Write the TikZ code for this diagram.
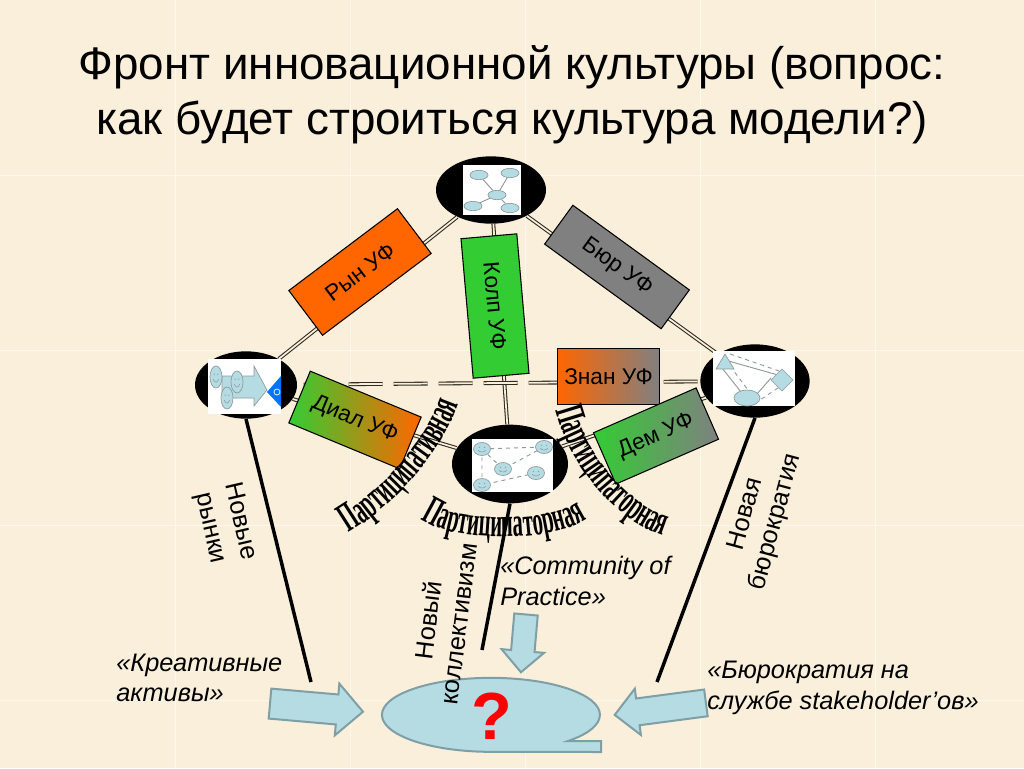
\documentclass[tikz,border=0pt]{standalone}
\usepackage{fontspec}
\setmainfont{Liberation Sans}
\newfontfamily\wordfont[FakeStretch=0.5]{Liberation Serif}
\usetikzlibrary{shapes.geometric,shapes.arrows,decorations.text}
\definecolor{paper}{HTML}{FAEFDA}
\definecolor{seam}{HTML}{FDF8EE}
\definecolor{iceblue}{HTML}{B5DBE3}
\definecolor{iceedge}{HTML}{7F9FA7}
\definecolor{iconedge}{HTML}{8E9A9C}
\definecolor{boxorange}{HTML}{FF6600}
\definecolor{boxgreen}{HTML}{33CC33}
\definecolor{boxgray}{HTML}{808080}
\definecolor{linkdark}{HTML}{2E2A22}
\tikzset{
  hub/.style={ellipse,fill=black,inner sep=0pt},
  uf/.style={draw=black,line width=0.8pt,minimum height=42pt,inner sep=0pt,
    font=\fontsize{17}{19}\selectfont},
  link/.style={draw=linkdark,line width=0.8pt,double=paper,double distance=1.3pt},
  heavy/.style={line width=2.6pt,black},
  note/.style={font=\fontsize{19}{23}\selectfont,align=center,inner sep=0pt},
  quoted/.style={font=\fontsize{19}{23}\selectfont\itshape,align=left,inner sep=0pt,anchor=west},
  blockarrow/.style={single arrow,draw=iceedge,fill=iceblue,line width=1.5pt,inner sep=9pt},
  iconpart/.style={draw=iconedge,fill=iceblue,line width=0.5pt},
  iconlink/.style={draw=iconedge,line width=0.7pt},
  wordart/.style={decorate,decoration={text along path,text align=center,
    text={|\wordfont\bfseries\fontsize{31}{31}\selectfont|#1}}},
  smiley/.pic={
    \draw[iconpart] (0,0) circle[radius=1];
    \fill[iconedge] (-0.3,-0.25) circle[radius=0.09] (0.3,-0.25) circle[radius=0.09];
    \draw[iconedge,line width=0.4pt] (-0.45,0.2) .. controls (-0.2,0.55) and (0.2,0.55) .. (0.45,0.2);
  }
}
\begin{document}
\begin{tikzpicture}[x=0.75pt,y=-0.75pt]
  \fill[paper] (0,0) rectangle (1024,768);
  \useasboundingbox (0,0) rectangle (1024,768);
  \foreach \s in {175,350,525,700,875}
    \draw[seam,line width=0.6pt] (\s,0)--(\s,768);
  \foreach \s in {175,350,525,700}
    \draw[seam,line width=0.6pt] (0,\s)--(1024,\s);

  \node[font=\fontsize{34.3}{41.5}\selectfont,align=center] (title) at (512,95)
  {Фронт инновационной культуры (вопрос:\\как будет строиться культура модели?)};

  \node[hub,minimum width=82.5pt,minimum height=50.5pt] (hubTop) at (491,190) {};
  \node[hub,minimum width=76.5pt,minimum height=50.5pt] (hubLeft) at (246,385) {};
  \node[hub,minimum width=82pt,minimum height=55pt] (hubRight) at (755,381) {};
  \node[hub,minimum width=87pt,minimum height=59pt] (hubBottom) at (510,464) {};

  \draw[link] (hubTop)--(hubLeft);
  \draw[link] (hubTop)--(hubRight);
  \draw[link] (hubTop)--(hubBottom);
  \draw[link] (hubLeft)--(hubBottom);
  \draw[link] (hubRight)--(hubBottom);
  \draw[link,dash pattern=on 25.5pt off 8.25pt,dash phase=29pt] (hubLeft)--(hubRight);

  \fill[white] (463,165) rectangle (521,215);
  \node[iconpart,ellipse,minimum width=13.5pt,minimum height=7pt,inner sep=0pt] (topA) at (479,175) {};
  \node[iconpart,ellipse,minimum width=13.5pt,minimum height=7pt,inner sep=0pt] (topB) at (510,173) {};
  \node[iconpart,ellipse,minimum width=13.5pt,minimum height=7pt,inner sep=0pt] (topC) at (497,195) {};
  \node[iconpart,ellipse,minimum width=13.5pt,minimum height=7pt,inner sep=0pt] (topD) at (473,206) {};
  \node[iconpart,ellipse,minimum width=13.5pt,minimum height=7pt,inner sep=0pt] (topE) at (510,208) {};
  \foreach \a in {topA,topB,topD,topE}
    \draw[iconlink] (topC)--(\a);

  \fill[white] (208,359) rectangle (281,414);
  \draw[iconpart] (222,376)--(254,376)--(254,366)--(267,390)--(254,406)--(254,398)--(222,398)--cycle;
  \fill[blue!55!cyan] (267,392)--(281,376)--(281,407)--cycle;
  \draw[white,line width=0.5pt] (277,392) circle[radius=3];
  \pic[xscale=6,yscale=11] at (216,377) {smiley};
  \pic[xscale=6,yscale=11] at (237,382) {smiley};
  \pic[xscale=6,yscale=11] at (227,398) {smiley};

  \fill[white] (713,351) rectangle (795,406);
  \draw[iconlink] (725,360)--(778,375) (722,368)--(741,392) (771,378)--(757,394);
  \draw[iconlink,dashed] (730,354)--(782,372) (730,366)--(748,390) (778,388)--(760,400);
  \draw[iconpart] (725,354)--(734,369)--(716,369)--cycle;
  \draw[iconpart] (782,369)--(793,380)--(782,391)--(771,380)--cycle;
  \draw[iconpart] (747,398) circle[x radius=13,y radius=8];

  \fill[white] (472,439) rectangle (553,492);
  \coordinate (faceA) at (482,449);
  \coordinate (faceB) at (544,447);
  \coordinate (faceC) at (503,469);
  \coordinate (faceD) at (536,473);
  \coordinate (faceE) at (482,485);
  \draw[iconlink,dashed] (faceA)--(faceB) (faceA)--(faceC)--(faceB) (faceA)--(faceE)--(faceD);
  \foreach \a in {faceA,faceB,faceC,faceD,faceE}
    \pic[xscale=8.5,yscale=6.5] at (\a) {smiley};

  \node[uf,fill=boxorange,minimum width=102pt,rotate=37] (ufRyn) at (360,272) {Рын УФ};
  \node[uf,fill=boxgray,minimum width=108pt,minimum height=36pt,rotate=-36] (ufByur) at (617,267) {Бюр УФ};
  \node[uf,fill=boxgreen,minimum width=105pt,rotate=-85] (ufKolp) at (495,306) {Колп УФ};
  \node[uf,left color=boxorange,right color=boxgray,minimum width=77pt] (ufZnan) at (608.5,376.5) {Знан УФ};
  \node[uf,left color=boxgreen,right color=boxorange,minimum width=90pt,rotate=-22.5] (ufDial) at (355,420) {Диал УФ};
  \node[uf,left color=boxgreen,right color=boxgray,minimum width=84pt,rotate=23.6] (ufDem) at (656,436) {Дем УФ};

  \path[wordart=Партиципативная] (350,532) .. controls (395,505) and (440,455) .. (458,405);
  \path[wordart=Партиципаторная] (424,521) .. controls (455,542) and (550,542) .. (584,521);
  \path[wordart=Партиципаторная] (556,412) .. controls (570,465) and (615,520) .. (662,535);

  \coordinate (endLeft) at (311,682);
  \coordinate (endMid) at (482,650);
  \coordinate (endRight) at (657,682);
  \draw[heavy] (hubLeft.south)--(endLeft);
  \draw[heavy] (hubBottom.south)--(endMid);
  \draw[heavy] (hubRight.south)--(endRight);

  \draw[iconpart,draw=iceedge,line width=1.5pt] (568,741) arc[start angle=45,end angle=-270,x radius=109,y radius=37]
    --(601,752)--(601,741)--cycle;
  \node[text=red,font=\fontsize{50}{50}\bfseries\selectfont] (mark) at (492,716) {?};

  \node[note,rotate=-77] (lblMarkets) at (225,525) {Новые\\рынки};
  \node[note,rotate=83] (lblCollect) at (443,622) {Новый\\коллективизм};
  \node[note,rotate=75] (lblBureau) at (761,518) {Новая\\бюрократия};
  \node[quoted] (qCreative) at (116,678) {«Креативные\\активы»};
  \node[quoted] (qCommunity) at (500,581) {«Community of\\Practice»};
  \node[quoted] (qBureau) at (707,688) {«Бюрократия на\\службе stakeholder’ов»};

  \node[blockarrow,rotate=-5,minimum height=70pt,minimum width=39pt] (arrLeft) at (309,707) {};
  \node[blockarrow,rotate=-95,minimum height=43.5pt,minimum width=32pt,inner sep=8pt] (arrTop) at (524,637.5) {};
  \node[blockarrow,rotate=187.5,minimum height=69pt,minimum width=35pt] (arrRight) at (667,708) {};
\end{tikzpicture}
\end{document}
